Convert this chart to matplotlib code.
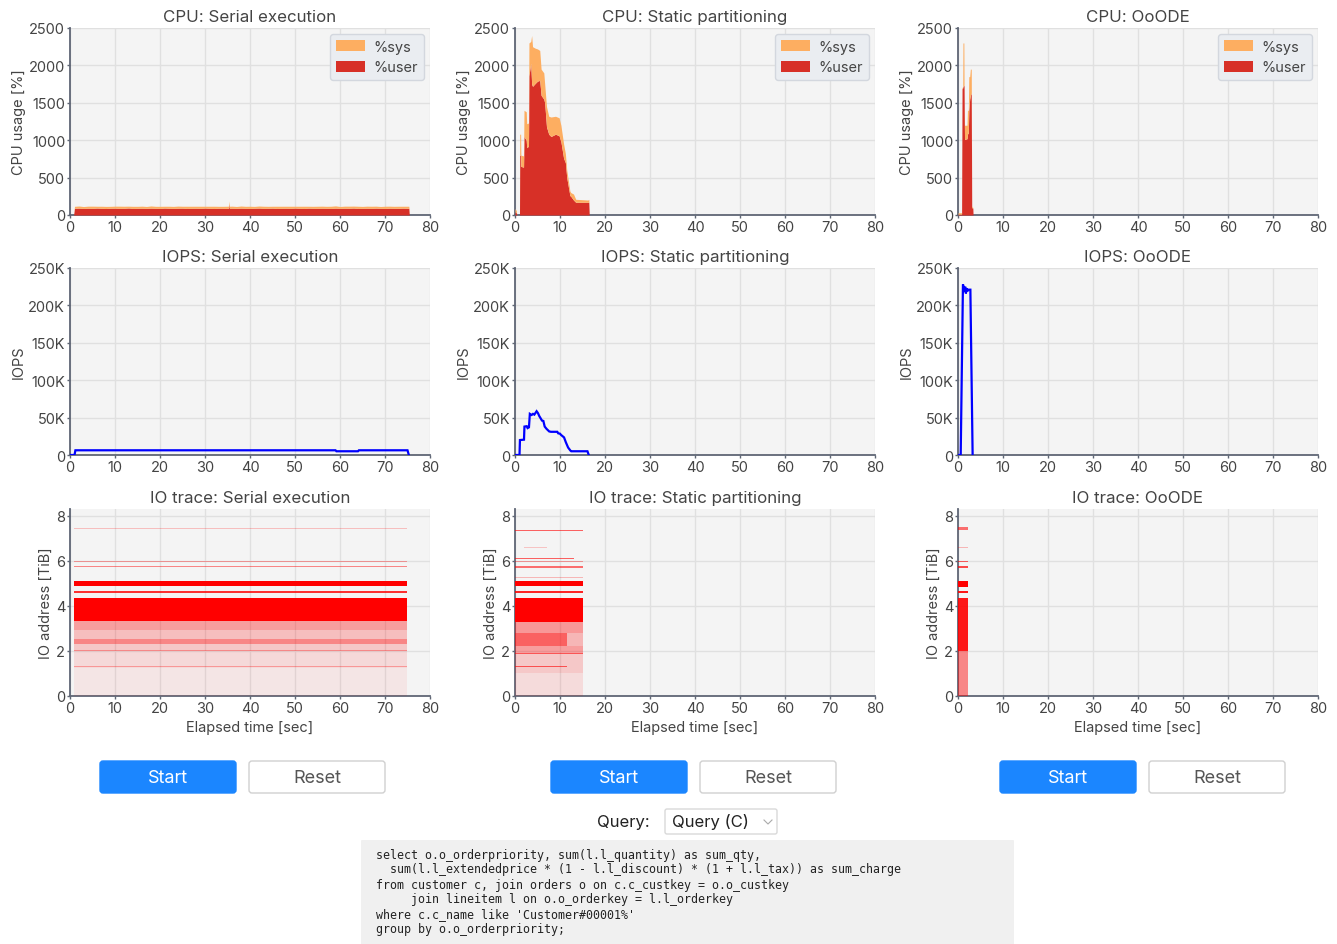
import matplotlib
matplotlib.use('Agg')
import matplotlib.pyplot as plt
from matplotlib.patches import FancyBboxPatch, Patch
from matplotlib.ticker import FuncFormatter

W, H = 1337, 945
plt.rcParams['font.family'] = ['Inter', 'DejaVu Sans']

# ---------------- data ----------------
panel_names = ['Serial execution', 'Static partitioning', 'OoODE']

# CPU: serial execution
ser_t = [0, 0.8, 1, 2, 3, 4, 5, 6, 7, 8, 9, 10, 11, 12, 13, 14, 15, 16, 17, 18, 19, 20,
         21, 22, 23, 24, 25, 26, 27, 28, 29, 30, 31, 32, 33, 34, 35, 35.2, 35.3, 35.4,
         36, 37, 38, 39, 40, 41, 42, 43, 44, 45, 46, 47, 48, 49, 50, 51, 52, 53, 54, 55,
         56, 57, 58, 59, 60, 61, 62, 63, 64, 65, 66, 67, 68, 69, 70, 71, 72, 73, 74, 75,
         75.3, 75.4]
ser_user = [0, 0,
            90, 92, 88, 91, 89, 93, 90, 87, 91, 92, 89, 90, 94, 88, 90, 91, 89, 92, 90, 88,
            93, 90, 89, 91, 92, 88, 90, 91, 89, 93, 90, 88, 91, 90, 89,
            90, 150, 90,
            91, 89, 92, 90, 88, 91, 93, 89, 90, 92, 88, 90, 91, 89, 93, 90, 88, 92, 90, 89,
            91, 90, 88, 92, 89, 91, 90, 93, 88, 90, 91, 89, 92, 90, 88, 91, 90, 89, 92, 90,
            90, 0]
ser_sys = [0, 0,
           26, 28, 25, 27, 29, 24, 27, 28, 25, 26, 29, 27, 24, 28, 26, 27, 25, 29, 26, 28,
           24, 27, 26, 28, 25, 29, 27, 26, 28, 24, 27, 29, 25, 26, 28,
           27, 37, 27,
           27, 25, 28, 26, 29, 24, 27, 28, 26, 25, 29, 27, 26, 28, 24, 27, 29, 25, 26, 28,
           27, 26, 29, 30, 25, 27, 28, 26, 29, 25, 27, 28, 26, 24, 29, 27, 26, 28, 25, 27,
           27, 0]

# CPU: static partitioning
sta_t = [0.0, 0.3, 0.4, 1.0, 1.05, 1.25, 1.3, 1.9, 2.0, 2.5, 2.6, 3.0, 3.1, 3.5, 3.7, 3.9,
         4.5, 5.0, 5.5, 5.8, 6.4, 6.6, 7.0, 7.5, 8.0, 9.0, 9.8, 10.2, 10.8, 11.2, 11.5,
         12.2, 12.4, 13.0, 13.5, 16.2, 16.4, 16.5]
sta_user = [40, 30, 0, 0, 800, 800, 650, 640, 1050, 1000, 900, 920, 1860, 2030, 1750, 1720,
            1760, 1790, 1800, 1600, 1550, 1500, 1180, 1080, 1050, 1080, 1060, 980, 760, 700,
            500, 260, 250, 200, 170, 170, 170, 0]
sta_sys = [45, 30, 0, 0, 280, 280, 150, 150, 350, 380, 320, 310, 440, 290, 650, 530,
           470, 430, 400, 350, 350, 250, 270, 240, 260, 240, 240, 220, 190, 120,
           100, 60, 50, 80, 40, 30, 40, 0]

# CPU: OoODE
ooo_t = [0.0, 0.8, 0.9, 1.05, 1.1, 1.3, 1.35, 1.45, 2.0, 2.1, 2.3, 2.4, 2.6, 2.75, 2.95,
         3.05, 3.3, 3.35]
ooo_user = [10, 10, 1690, 1700, 1720, 1730, 1730, 1010, 1020, 1080, 1100, 1400, 1550, 1600,
            1630, 100, 90, 0]
ooo_sys = [20, 20, 10, 20, 580, 570, 20, 190, 180, 320, 300, 450, 300, 350, 320, 20, 10, 0]

# IOPS
iops_ser_t = [0, 1.0, 1.2, 59.0, 59.2, 64.0, 64.2, 75.0, 75.3]
iops_ser = [0, 0, 6300, 6300, 5000, 5000, 6300, 6300, 0]
iops_sta_t = [0, 1.0, 1.1, 2.0, 2.1, 2.6, 2.8, 3.1, 3.3, 3.7, 4.0, 4.3, 4.8, 5.1, 5.4, 5.8,
              6.0, 6.3, 6.6, 7.0, 7.6, 8.0, 9.4, 9.6, 10.0, 10.2, 10.6, 10.9, 11.3, 11.8,
              12.3, 12.5, 16.1, 16.4]
iops_sta = [0, 0, 20000, 20500, 38000, 38500, 36000, 37000, 55000, 53500, 55000, 54000,
            58500, 56000, 52000, 48000, 46000, 45500, 38000, 35000, 31500, 31000, 31000,
            29000, 28500, 27000, 25000, 23500, 17000, 10000, 6000, 5000, 5000, 0]
iops_ooo_t = [0, 0.6, 1.1, 1.2, 1.35, 1.45, 1.6, 1.75, 1.95, 2.1, 2.3, 2.75, 3.25]
iops_ooo = [0, 0, 228000, 226000, 222000, 218000, 225000, 216000, 223000, 219000, 221000,
            221000, 0]

# IO trace density bands: (t_start, t_end, addr_low, addr_high, density)
trace_ser = [
    (0.9, 74.8, 0.00, 1.25, 0.06), (0.9, 74.8, 1.25, 2.00, 0.11),
    (0.9, 74.8, 2.00, 2.30, 0.18), (0.9, 74.8, 2.30, 2.55, 0.45),
    (0.9, 74.8, 2.55, 2.95, 0.22), (0.9, 74.8, 2.95, 3.33, 0.35),
    (0.9, 74.8, 3.33, 4.35, 1.00), (0.9, 74.8, 4.59, 4.65, 0.80),
    (0.9, 74.8, 4.90, 5.12, 1.00), (0.9, 74.8, 5.71, 5.76, 0.45),
    (0.9, 74.8, 5.94, 5.99, 0.35), (0.9, 74.8, 7.40, 7.45, 0.22),
    (0.9, 74.8, 1.98, 2.02, 0.30), (0.9, 74.8, 1.80, 1.84, 0.30),
    (0.9, 74.8, 1.29, 1.33, 0.30),
]
trace_sta = [
    (0.0, 15.2, 0.00, 1.00, 0.10), (0.0, 15.2, 1.00, 1.85, 0.18),
    (0.0, 15.2, 1.85, 2.20, 0.35), (0.0, 11.5, 2.20, 2.80, 0.60),
    (11.5, 15.2, 2.20, 2.80, 0.25), (0.0, 15.2, 2.80, 3.30, 0.38),
    (0.0, 15.2, 3.30, 4.35, 1.00), (0.0, 15.2, 4.59, 4.65, 0.85),
    (0.0, 15.2, 4.88, 5.12, 1.00), (0.0, 15.2, 5.25, 5.28, 0.25),
    (0.0, 15.2, 5.70, 5.76, 0.55), (0.0, 15.2, 5.93, 5.98, 0.35),
    (0.0, 13.1, 6.08, 6.13, 0.60), (2.0, 7.0, 6.58, 6.62, 0.20),
    (0.0, 15.2, 7.33, 7.38, 0.60), (0.0, 11.5, 1.29, 1.33, 0.60),
    (0.0, 15.2, 1.88, 1.92, 0.45),
]
trace_ooo = [
    (0.1, 2.2, 0.00, 2.00, 0.45), (0.1, 2.2, 2.00, 4.35, 0.90),
    (0.1, 2.2, 4.59, 4.65, 0.90), (0.1, 2.2, 4.85, 5.12, 1.00),
    (0.1, 2.2, 5.70, 5.76, 0.70), (0.1, 2.2, 5.93, 5.98, 0.60),
    (0.1, 2.2, 6.58, 6.62, 0.25), (0.1, 2.2, 7.35, 7.50, 0.55),
]

cpu_ticks = [0, 500, 1000, 1500, 2000, 2500]
iops_ticks = [0, 50000, 100000, 150000, 200000, 250000]
addr_ticks = [0, 2, 4, 6, 8]
time_ticks = [0, 10, 20, 30, 40, 50, 60, 70, 80]

buttons = ['Start', 'Reset']
query_label = 'Query:'
query_choice = 'Query (C)'
sql_lines = [
    "select o.o_orderpriority, sum(l.l_quantity) as sum_qty,",
    "  sum(l.l_extendedprice * (1 - l.l_discount) * (1 + l.l_tax)) as sum_charge",
    "from customer c, join orders o on c.c_custkey = o.o_custkey",
    "     join lineitem l on o.o_orderkey = l.l_orderkey",
    "where c.c_name like 'Customer#00001%'",
    "group by o.o_orderpriority;",
]

# ---------------- style ----------------
TXT = '#444444'
AX = '#5f6675'
BG = '#f4f4f4'
GRID = '#e0e0e0'
SYS = '#fdae61'
USER = '#d73027'
BLUE = '#0000ff'
RED = '#ff0000'
BTN = '#1b86ff'

fig = plt.figure(figsize=(W / 100, H / 100), dpi=100)

# overlay in pixel coordinates for the page controls
ov = fig.add_axes([0, 0, 1, 1])
ov.set_xlim(0, W)
ov.set_ylim(H, 0)
ov.axis('off')

col_x = [70, 515, 958]
row_y = [(29, 216), (269, 456), (510, 697)]


def add_ax(c, r):
    x0 = col_x[c]
    y0, y1 = row_y[r]
    return fig.add_axes([x0 / W, 1 - y1 / H, 360 / W, (y1 - y0) / H])


def style(ax):
    ax.set_facecolor(BG)
    ax.grid(True, color=GRID, linewidth=1.0)
    ax.set_axisbelow(True)
    for s in ['top', 'right']:
        ax.spines[s].set_visible(False)
    for s in ['left', 'bottom']:
        ax.spines[s].set_color(AX)
        ax.spines[s].set_linewidth(1.3)
    ax.tick_params(colors=AX, labelcolor=TXT, labelsize=10.5, length=2.5, width=1, pad=1)
    ax.set_xlim(0, 80)
    ax.set_xticks(time_ticks)


cpu_data = [(ser_t, ser_user, ser_sys), (sta_t, sta_user, sta_sys), (ooo_t, ooo_user, ooo_sys)]
iops_data = [(iops_ser_t, iops_ser), (iops_sta_t, iops_sta), (iops_ooo_t, iops_ooo)]
trace_data = [trace_ser, trace_sta, trace_ooo]

kfmt = FuncFormatter(lambda v, p: '0' if v == 0 else f'{int(v / 1000)}K')

for c in range(3):
    # CPU
    ax = add_ax(c, 0)
    style(ax)
    t, u, s = cpu_data[c]
    tot = [a + b for a, b in zip(u, s)]
    ax.fill_between(t, 0, u, color=USER, lw=0, zorder=3)
    ax.fill_between(t, u, tot, color=SYS, lw=0, zorder=3)
    ax.set_ylim(0, 2500)
    ax.set_yticks(cpu_ticks)
    ax.set_ylabel('CPU usage [%]', fontsize=10.5, color=TXT, labelpad=2)
    ax.set_title('CPU: ' + panel_names[c], fontsize=12.2, color=TXT, pad=5)
    handles = [Patch(facecolor=SYS, edgecolor='none', label='%sys'),
               Patch(facecolor=USER, edgecolor='none', label='%user')]
    leg = ax.legend(handles=handles, loc='upper right',
                    bbox_to_anchor=(1 - 6 / 360, 1 - 6 / 187), borderaxespad=0,
                    frameon=True, facecolor='#eaedf1', edgecolor='#d3d7de', framealpha=1,
                    fontsize=10.5, handlelength=2.0, handleheight=0.8, labelcolor=TXT,
                    borderpad=0.4, labelspacing=0.45, handletextpad=0.6, fancybox=True)
    leg.get_frame().set_linewidth(1.0)
    leg.set_zorder(5)

    # IOPS
    ax = add_ax(c, 1)
    style(ax)
    t, v = iops_data[c]
    ax.plot(t, v, color=BLUE, lw=1.6, zorder=3, solid_joinstyle='miter')
    ax.set_ylim(0, 250000)
    ax.set_yticks(iops_ticks)
    ax.yaxis.set_major_formatter(kfmt)
    ax.set_ylabel('IOPS', fontsize=10.5, color=TXT, labelpad=2)
    ax.set_title('IOPS: ' + panel_names[c], fontsize=12.2, color=TXT, pad=5)

    # IO trace
    ax = add_ax(c, 2)
    style(ax)
    for (t0, t1, y0, y1, a) in trace_data[c]:
        ax.fill_between([t0, t1], [y0, y0], [y1, y1], color=RED, alpha=a, lw=0, zorder=3)
    ax.set_ylim(0, 8.3)
    ax.set_yticks(addr_ticks)
    ax.set_ylabel('IO address [TiB]', fontsize=10.5, color=TXT, labelpad=2)
    ax.set_xlabel('Elapsed time [sec]', fontsize=10.5, color=TXT, labelpad=4)
    ax.set_title('IO trace: ' + panel_names[c], fontsize=12.2, color=TXT, pad=5)

# ---------------- controls ----------------
btn_x = [(100, 249), (551, 700), (1000, 1149)]
for (xs, xr) in btn_x:
    ov.add_patch(FancyBboxPatch((xs, 762), 136, 32, boxstyle='round,pad=0,rounding_size=3',
                                facecolor=BTN, edgecolor=BTN, lw=1))
    ov.text(xs + 68, 778.5, buttons[0], color='white', fontsize=13, ha='center', va='center')
    ov.add_patch(FancyBboxPatch((xr, 762), 136, 32, boxstyle='round,pad=0,rounding_size=3',
                                facecolor='white', edgecolor='#d0d0d0', lw=1))
    ov.text(xr + 68, 778.5, buttons[1], color='#555555', fontsize=13, ha='center', va='center')

ov.text(650, 823, query_label, color='#222222', fontsize=12, ha='right', va='center')
ov.add_patch(FancyBboxPatch((665, 810), 112, 25, boxstyle='round,pad=0,rounding_size=2',
                            facecolor='white', edgecolor='#d9d9d9', lw=1))
ov.text(672, 822.5, query_choice, color='#222222', fontsize=12, ha='left', va='center')
ov.plot([764, 768, 772], [821, 825, 821], color='#aaaaaa', lw=0.8)

ov.add_patch(FancyBboxPatch((361, 841), 653, 110, boxstyle='round,pad=0,rounding_size=1',
                            facecolor='#f0f0f0', edgecolor='none'))
for i, line in enumerate(sql_lines):
    ov.text(376, 855 + 15 * i, line, family='DejaVu Sans Mono', fontsize=8.42,
            color='#222222', ha='left', va='center')

fig.savefig('out.png', dpi=100)
